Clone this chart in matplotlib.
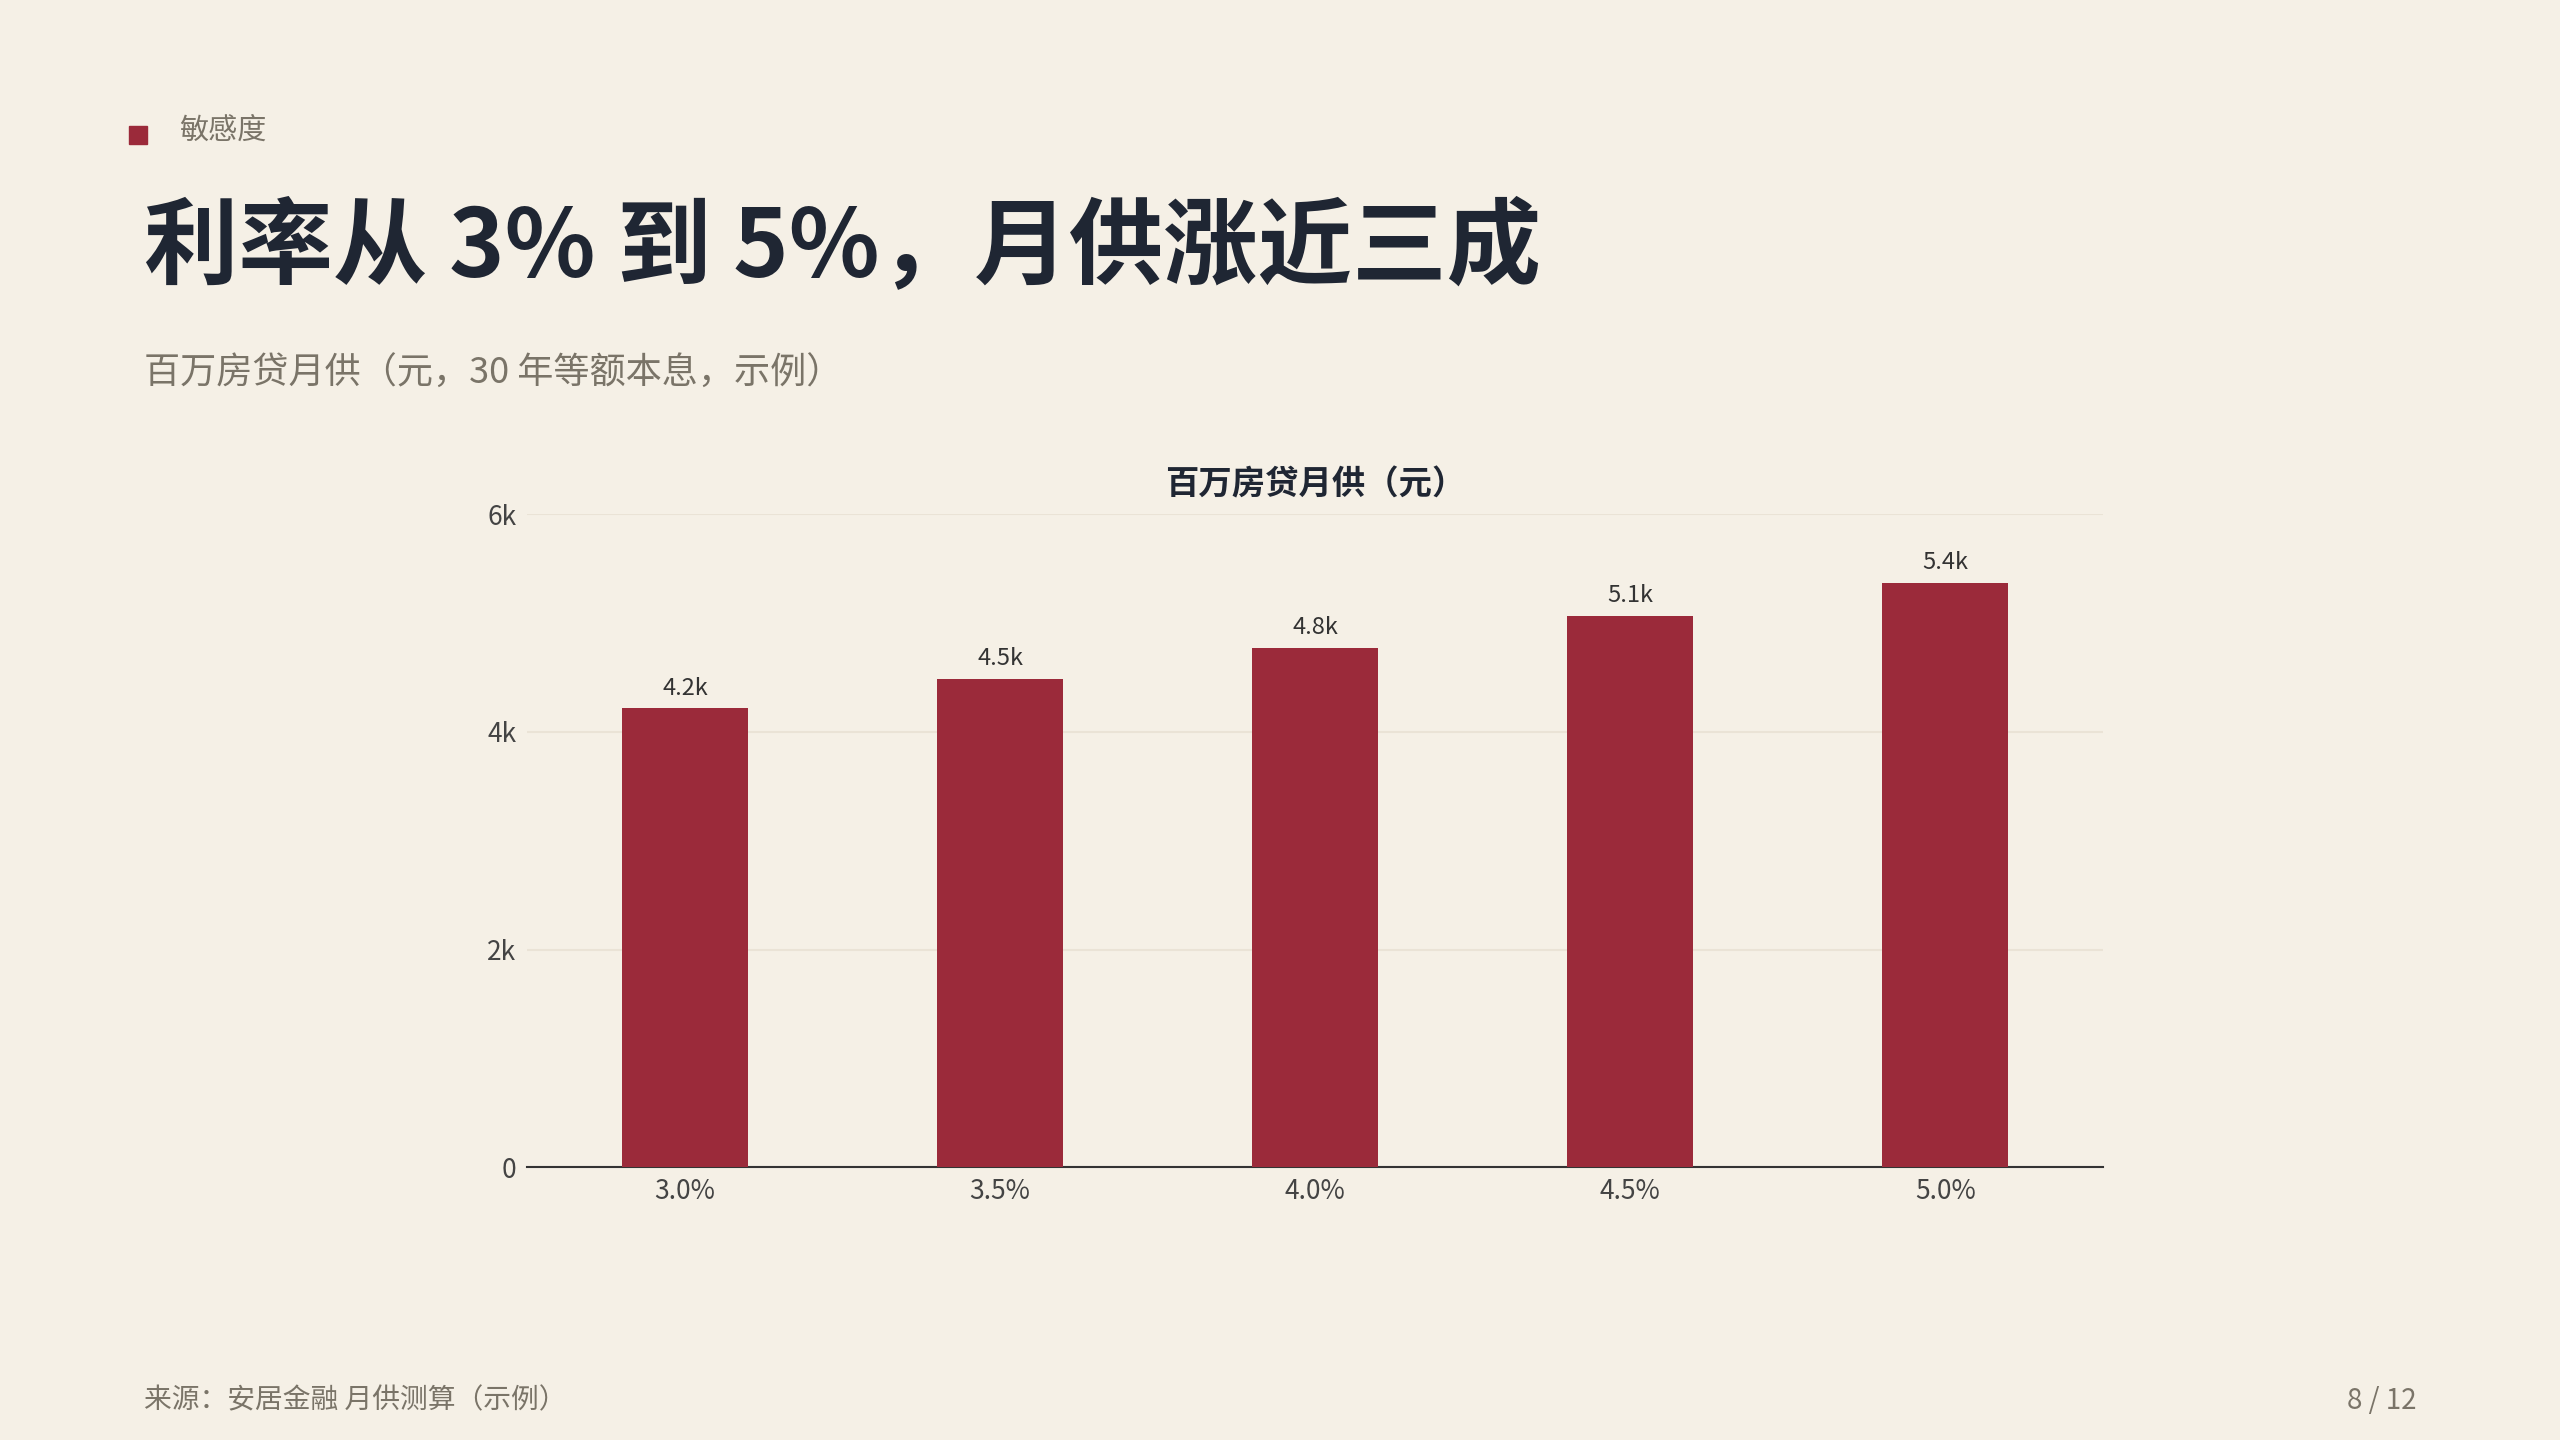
import matplotlib
matplotlib.use("Agg")
import matplotlib.pyplot as plt

plt.rcParams['font.family'] = ['Noto Sans CJK SC', 'DejaVu Sans']

categories = ["3.0%", "3.5%", "4.0%", "4.5%", "5.0%"]
values = [4216, 4490, 4774, 5067, 5368]
labels = ["4.2k", "4.5k", "4.8k", "5.1k", "5.4k"]
yticks = [0, 2000, 4000, 6000]
yticklabels = ["0", "2k", "4k", "6k"]

BG = "#F5F0E6"
BAR = "#9B2A3A"
DARK = "#1F2633"
GREY = "#7A7468"

fig = plt.figure(figsize=(25.6, 14.4), dpi=100, facecolor=BG)
W, H = 1568, 882
def fx(x): return x / W
def fy(y): return 1 - y / H

# header
fig.patches.append(plt.Rectangle((fx(79), fy(88)), fx(11), 11 / H, transform=fig.transFigure,
                                 color=BAR, zorder=5))
fig.text(fx(110), fy(80), "敏感度", fontsize=21, color=GREY, va="center")
fig.text(fx(88), fy(153), "利率从 3% 到 5%，月供涨近三成", fontsize=68, fontweight="bold",
         color=DARK, va="center")
fig.text(fx(88), fy(229), "百万房贷月供（元，30 年等额本息，示例）", fontsize=26, color=GREY, va="center")
fig.text(fx(88), fy(858), "来源：安居金融 月供测算（示例）", fontsize=20, color=GREY, va="center")
fig.text(fx(1480), fy(858), "8 / 12", fontsize=20, color=GREY, va="center", ha="right")

ax = fig.add_axes([fx(323), fy(715), fx(1288) - fx(323), (715 - 315) / H])
ax.set_facecolor(BG)
x = range(len(categories))
bars = ax.bar(x, values, width=0.4, color=BAR, zorder=3)
for b, l in zip(bars, labels):
    ax.text(b.get_x() + b.get_width() / 2, b.get_height() + 80, l, ha="center", va="bottom",
            fontsize=17, color="#333333")
ax.set_xlim(-0.5, len(categories) - 0.5)
ax.set_ylim(0, 6000)
ax.set_yticks(yticks)
ax.set_yticklabels(yticklabels)
ax.set_xticks(list(x))
ax.set_xticklabels(categories)
ax.tick_params(axis="both", length=0, labelsize=19, colors="#444444")
ax.tick_params(axis="y", pad=8)
ax.tick_params(axis="x", pad=8)
ax.grid(axis="y", color="#EAE3D6", linewidth=1.5, zorder=0)
for s in ["top", "right", "left"]:
    ax.spines[s].set_visible(False)
ax.spines["bottom"].set_color("#333333")
ax.spines["bottom"].set_linewidth(1.5)
ax.set_title("百万房贷月供（元）", fontsize=24, fontweight="bold", color=DARK, pad=14)

fig.savefig("out.png", dpi=100, facecolor=BG)
